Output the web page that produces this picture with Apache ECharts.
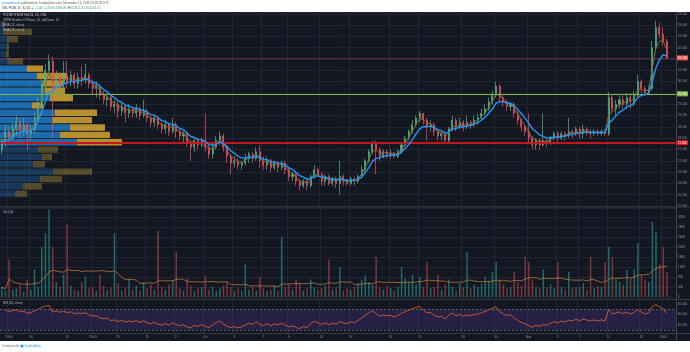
<!DOCTYPE html>
<html>
<head>
<meta charset="utf-8">
<title>PCI BIOTECH HLDG, 15, OSL</title>
<script src="https://cdn.jsdelivr.net/npm/echarts@6.0.0/dist/echarts.min.js"></script>
<style>
  html, body { margin: 0; padding: 0; background: #fff; }
  #chart { width: 690px; height: 352px; }
</style>
</head>
<body>
<div id="chart"></div>
<script>
// candles, about 4 per trading day (thin stock, bar count per day varies)
// [open, close, low, high]
var bars = [
  [27.5,27.8,27.3,28.0],[27.8,28.3,27.6,28.6],[28.3,28.0,27.7,28.5],[28.0,28.4,27.9,28.7],                     // Sep 12
  [28.4,28.7,28.1,29.0],[28.7,28.3,28.0,28.9],[28.3,28.6,28.1,28.9],[28.6,28.2,27.5,28.7],                     // Sep 13
  [28.2,28.4,27.9,28.6],[28.4,28.9,28.2,29.1],[28.9,29.6,28.7,29.8],[29.6,30.4,29.4,30.6],[30.4,31.0,30.1,31.3], // Sep 16
  [31.0,31.4,30.8,31.7],[31.4,30.1,28.0,31.6],[30.1,30.7,29.9,31.0],[30.7,30.4,30.1,30.9],[30.4,30.8,30.2,31.4], // Sep 17
  [30.8,30.5,30.2,31.4],[30.5,30.8,30.3,31.0],[30.8,30.4,30.2,30.9],[30.4,30.7,30.2,30.9],[30.7,30.6,30.3,31.2], // Sep 18
  [30.6,30.8,30.4,31.3],[30.8,30.4,30.2,30.9],[30.4,30.2,29.9,30.6],[30.2,30.3,29.8,30.5],[30.3,29.9,29.7,30.4], // Sep 19
  [29.9,29.7,29.5,30.1],[29.7,29.8,29.4,30.0],[29.8,29.4,29.2,29.9],[29.4,29.5,29.1,29.7],                     // Sep 20
  [29.5,29.2,28.9,29.6],[29.2,29.4,29.0,29.6],[29.4,29.1,28.7,29.5],[29.1,29.3,28.9,29.5],                     // Sep 23
  [29.3,29.1,28.9,29.4],[29.1,29.3,28.9,29.5],[29.3,29.0,28.8,29.4],[29.0,29.2,28.9,29.7],                     // Sep 24
  [29.2,28.9,28.7,29.3],[28.9,28.7,28.5,29.0],[28.7,28.9,28.5,29.0],[28.9,28.6,28.4,29.0],                     // Sep 25
  [28.6,28.4,28.2,28.7],[28.4,28.6,28.2,28.8],[28.6,28.3,28.1,28.7],[28.3,28.6,28.2,28.9],                     // Sep 26
  [28.6,28.3,28.0,28.7],[28.3,28.1,27.9,28.4],[28.1,28.2,27.8,28.3],[28.2,27.8,27.6,28.3],                     // Sep 27
  [27.8,27.6,27.0,27.9],[27.6,27.9,27.4,28.0],[27.9,27.7,27.5,28.0],[27.7,27.9,27.6,28.0],                     // Sep 30
  [27.9,27.6,27.4,29.1],[27.6,27.3,27.1,27.8],[27.3,27.6,27.1,27.8],[27.6,27.9,27.5,28.1],                     // Oct 1
  [27.9,28.1,27.7,28.3],[28.1,27.6,27.4,28.2],[27.6,27.2,26.9,27.7],[27.2,26.9,26.4,27.3],                     // Oct 2
  [26.9,27.0,26.7,27.2],[27.0,26.8,26.6,27.1],[26.8,26.9,26.6,27.0],[26.9,27.1,26.8,27.3],                     // Oct 3
  [27.1,27.3,26.9,27.4],[27.3,27.1,26.9,27.4],[27.1,27.4,27.0,27.6],[27.4,27.0,26.7,27.7],                     // Oct 4
  [27.0,26.8,26.6,27.2],[26.8,27.0,26.6,27.2],[27.0,26.7,26.5,27.1],[26.7,26.9,26.6,27.0],                     // Oct 7
  [26.9,26.7,26.5,27.0],[26.7,26.9,26.6,27.0],[26.9,26.6,26.4,27.0],                                           // Oct 8
  [26.6,26.3,26.1,26.7],[26.3,26.4,26.1,26.5],[26.4,26.1,25.9,26.5],                                           // Oct 9
  [26.1,25.9,25.7,26.2],[25.9,26.1,25.8,26.2],[26.1,25.9,25.7,26.2],                                           // Oct 10
  [25.9,26.3,25.8,26.4],[26.3,26.6,26.2,26.8],[26.6,26.4,26.3,26.7],                                           // Oct 11
  [26.4,26.1,25.9,26.5],[26.1,26.3,25.9,26.4],[26.3,26.0,25.9,26.4],[26.0,26.2,25.9,26.3],                     // Oct 14
  [26.2,26.0,25.8,26.3],[26.0,26.3,25.5,27.0],[26.3,26.1,25.9,26.4],[26.1,26.0,25.9,26.2],                     // Oct 15
  [26.0,26.2,25.9,26.3],[26.2,26.1,25.9,26.3],[26.1,26.3,26.0,26.4],[26.3,26.6,26.2,26.8],                     // Oct 16
  [26.6,27.0,26.5,27.1],[27.0,27.4,26.9,27.5],[27.4,27.8,27.3,27.9],                                           // Oct 17
  [27.8,27.5,26.4,27.9],[27.5,27.2,27.0,27.6],[27.2,27.4,27.1,27.5],[27.4,27.3,27.1,27.5],                     // Oct 18
  [27.3,27.35,27.1,27.5],[27.35,27.2,27.1,27.4],[27.2,27.4,27.1,27.5],[27.4,27.7,27.3,27.8],                   // Oct 21
  [27.7,28.0,27.6,28.1],[28.0,28.3,27.9,28.4],[28.3,28.6,28.2,28.8],[28.6,28.9,28.5,29.0],                     // Oct 22
  [28.9,29.1,28.7,29.2],[29.1,28.8,28.6,29.1],[28.8,28.5,27.9,28.9],[28.5,28.6,28.3,28.8],                     // Oct 23
  [28.6,28.3,28.1,28.7],[28.3,28.1,27.9,28.4],[28.1,28.2,27.9,28.3],[28.2,27.9,27.8,28.3],                     // Oct 24
  [27.9,28.4,27.8,28.5],[28.4,28.8,28.3,29.0],[28.8,28.5,28.3,28.9],[28.5,28.7,28.4,28.9],                     // Oct 25
  [28.7,28.5,28.3,28.8],[28.5,28.7,28.4,29.0],[28.7,28.6,28.4,28.8],[28.6,28.8,28.5,29.0],[28.8,28.9,28.6,29.1], // Oct 28
  [28.9,29.1,28.8,29.3],[29.1,29.3,29.0,29.5],[29.3,29.6,29.2,29.8],[29.6,29.9,29.5,30.1],                     // Oct 29
  [29.9,30.3,29.8,30.5],[30.3,29.8,29.6,30.4],[29.8,29.6,29.4,29.9],[29.6,29.4,29.2,29.7],[29.4,29.5,29.2,29.6], // Oct 30
  [29.5,29.1,28.9,29.6],[29.1,28.8,28.6,29.2],[28.8,28.5,28.3,28.9],[28.5,28.3,28.1,28.6],                     // Oct 31
  [28.3,28.0,27.8,29.1],[28.0,27.7,27.5,28.1],[27.7,27.9,27.5,28.0],[27.9,27.7,27.5,28.0],                     // Nov 1
  [27.7,27.9,27.6,29.1],[27.9,27.8,27.6,28.0],[27.8,28.0,27.7,28.1],[28.0,28.2,27.9,28.3],                     // Nov 4
  [28.2,28.0,27.8,28.3],[28.0,28.2,27.9,28.3],[28.2,28.1,27.9,28.3],                                           // Nov 5
  [28.1,28.3,28.0,28.9],[28.3,28.2,28.0,28.4],[28.2,28.4,28.1,28.5],                                           // Nov 6
  [28.4,28.2,28.0,28.5],[28.2,28.4,28.0,28.6],[28.4,28.3,28.1,28.5],[28.3,28.2,28.0,28.4],                     // Nov 7
  [28.2,28.3,28.1,28.4],[28.3,28.2,28.1,28.4],[28.2,28.3,28.1,28.4],[28.3,28.2,28.1,28.4],                     // Nov 8
  [28.2,29.8,28.1,30.05],[29.8,29.3,29.1,29.9],[29.3,29.5,29.0,29.7],[29.5,29.7,29.3,29.9],                    // Nov 11
  [29.7,29.5,29.3,29.9],[29.5,29.8,29.3,30.0],[29.8,29.6,29.3,30.0],[29.6,29.9,29.4,30.1],[29.9,30.5,29.8,30.8], // Nov 12
  [30.5,30.2,30.0,30.6],[30.2,30.0,29.9,30.3],[30.0,30.2,29.9,30.3],[30.2,32.0,30.1,32.3],                     // Nov 13
  [32.0,32.9,31.8,33.2],[32.9,32.6,32.4,33.1],[32.6,32.3,32.1,32.9],[32.3,31.55,31.5,32.4]                     // Nov 14
];

// volume per candle, thousands
var volumesK = [
  40,25,150,30,  35,50,20,70,  30,110,40,200,255,  350,200,60,40,90,  290,45,30,25,60,  80,35,40,25,90,
  45,30,40,255,  55,25,40,70,  30,45,25,60,  35,50,30,265,  40,30,50,65,  180,35,25,75,  45,25,35,40,
  85,30,40,25,  35,45,60,40,  25,35,25,130,  30,40,25,80,  35,25,30,45,  25,240,40,  50,30,70,  55,25,35,
  70,40,30,  35,45,150,30,  40,120,25,35,  30,40,55,70,  85,60,50,  160,40,30,45,  35,25,40,120,
  75,60,90,50,  80,40,140,35,  40,90,30,50,  70,40,25,55,  40,180,35,50,40,  55,80,65,100,
  140,70,50,35,40,  100,60,45,160,  140,70,40,35,  110,40,50,35,  140,40,30,  100,35,40,
  40,55,30,160,  35,45,40,140,  200,160,70,60,  50,108,75,110,215,  90,70,60,300,  260,130,200,100
];

// time axis labels: [candle index, text]
var timeTicks = [
  [2,'13:00'],[8,'16'],[18,'18'],[25,'13:00'],[32,'23'],[40,'25'],[48,'27'],[56,'Oct'],[64,'3'],
  [72,'7'],[79,'9'],[88,'14'],[96,'16'],[107,'21'],[115,'23'],[127,'28'],[136,'30'],[145,'Nov'],
  [153,'5'],[159,'7'],[167,'11'],[176,'13'],[182,'13:00']
];

// horizontal levels drawn on the chart
var supportLevel = 27.80;
var resistLevel = 29.96;
var lastPrice = 31.55;
var trendLine = [[72, 24.95], [185, 27.92]];

// volume profile, 24 rows top -> bottom: [up, down]
var vpRows = [
  [2,3],[3,29],[7,11],[7,2],[6,3],[8,15],[27,16],[37,30],[43,20],[45,20],[50,23],[32,11],
  [55,42],[53,39],[70,35],[60,50],[77,45],[38,20],[42,10],[33,12],[53,39],[40,22],[23,19],[15,12]
];
var vpTop = 33.19, vpBottom = 25.38;
var valueArea = [6, 16];

var emaFastLen = 3, emaSlowLen = 7, volMaLen = 20, rsiLen = 14;

var closes = bars.map(function (b) { return b[1]; });
var cats = [];
for (var i = 0; i < bars.length + 2; i++) cats.push(String(i));
var tickMap = {};
timeTicks.forEach(function (t) { tickMap[t[0]] = t[1]; });

function ema(arr, n) {
  var k = 2 / (n + 1), out = [], prev = arr[0];
  for (var i = 0; i < arr.length; i++) {
    prev = i === 0 ? arr[0] : arr[i] * k + prev * (1 - k);
    out.push(+prev.toFixed(3));
  }
  return out;
}
function sma(arr, n) {
  var out = [];
  for (var i = 0; i < arr.length; i++) {
    var s = 0, c = 0;
    for (var j = Math.max(0, i - n + 1); j <= i; j++) { s += arr[j]; c++; }
    out.push(+(s / c).toFixed(2));
  }
  return out;
}
function rsi(arr, n) {
  // seed averages from the first n changes, then Wilder smoothing
  var g0 = 0, l0 = 0;
  for (var i = 1; i <= n && i < arr.length; i++) {
    var d0 = arr[i] - arr[i - 1];
    if (d0 > 0) g0 += d0; else l0 -= d0;
  }
  var ag = g0 / n, al = l0 / n, out = ['-'];
  for (var j = 1; j < arr.length; j++) {
    var d = arr[j] - arr[j - 1];
    ag = (ag * (n - 1) + Math.max(d, 0)) / n;
    al = (al * (n - 1) + Math.max(-d, 0)) / n;
    out.push(al === 0 ? 100 : +(100 - 100 / (1 + ag / al)).toFixed(2));
  }
  return out;
}

var emaFast = ema(closes, emaFastLen);
var emaSlow = ema(closes, emaSlowLen);
var volMa = sma(volumesK, volMaLen);
var rsiVals = rsi(closes, rsiLen);

var UP = '#4fb583', DOWN = '#ef4f5e';
var BG = '#131722', GRID = '#232632', AXIS = '#434651', TXT = '#9598a1';
var FONT = '"Liberation Sans", Arial, sans-serif';

var myChart = echarts.init(document.getElementById('chart'));

function catAxis(grid, showLabels) {
  return {
    type: 'category', gridIndex: grid, data: cats, boundaryGap: true,
    axisLine: { show: false }, axisTick: { show: false },
    axisLabel: {
      show: showLabels, fontSize: 3, color: TXT, margin: 3, fontFamily: FONT,
      interval: function (i) { return tickMap[i] !== undefined; },
      formatter: function (v, i) { return tickMap[i] || ''; }
    },
    splitLine: {
      show: true, lineStyle: { color: GRID, width: 1 },
      interval: function (i) { return tickMap[i] !== undefined; }
    }
  };
}

var rowH = (vpTop - vpBottom) / vpRows.length;

function priceTag(val, bg, fg) {
  return {
    show: true, position: 'end', distance: 1, formatter: val.toFixed(3),
    backgroundColor: bg, color: fg, fontSize: 3, padding: [1, 1], fontFamily: FONT
  };
}

var option = {
  animation: false,
  backgroundColor: '#ffffff',
  graphic: [
    { type: 'rect', z: -10, silent: true, shape: { x: 0, y: 12, width: 690, height: 329 }, style: { fill: BG } },
    { type: 'line', z: 50, silent: true, shape: { x1: 0, y1: 207, x2: 690, y2: 207 }, style: { stroke: '#363a45', lineWidth: 1 } },
    { type: 'line', z: 50, silent: true, shape: { x1: 0, y1: 299.5, x2: 690, y2: 299.5 }, style: { stroke: '#363a45', lineWidth: 1 } },
    { type: 'line', z: 50, silent: true, shape: { x1: 0, y1: 333.5, x2: 690, y2: 333.5 }, style: { stroke: '#363a45', lineWidth: 1 } },
    { type: 'line', z: 50, silent: true, shape: { x1: 676.5, y1: 12, x2: 676.5, y2: 341 }, style: { stroke: AXIS, lineWidth: 1 } },
    // header
    { type: 'text', z: 60, x: 2, y: 3.5, style: {
        text: '{u|cannjobiossel} published on TradingView.com, November 14, 2019 14:28:28 UTC',
        fill: '#555', fontSize: 3, fontFamily: FONT, verticalAlign: 'middle',
        rich: { u: { fill: '#2196f3', fontSize: 3, fontFamily: FONT } } } },
    { type: 'text', z: 60, x: 2, y: 8, style: {
        text: 'OSL:PCIB, 15  31.55 {g|▲ +1.40 (+4.64%)} O:{g|31.85} H:{g|31.85} L:{g|31.55} C:{g|31.55}',
        fill: '#333', fontSize: 3, fontFamily: FONT, verticalAlign: 'middle',
        rich: { g: { fill: '#26a65b', fontSize: 3, fontFamily: FONT } } } },
    // pane legends
    { type: 'text', z: 60, x: 3, y: 15.5, style: { text: 'PCI BIOTECH HLDG, 15, OSL', fill: '#d1d4dc', fontSize: 3.2, fontFamily: FONT, verticalAlign: 'middle' } },
    { type: 'text', z: 60, x: 3, y: 20, style: { text: 'VPVR Number Of Rows, 24, Up/Down, 70', fill: '#b2b5be', fontSize: 3, fontFamily: FONT, verticalAlign: 'middle' } },
    { type: 'text', z: 60, x: 3, y: 25, style: { text: 'EMA (12, close)', fill: '#b2b5be', fontSize: 3, fontFamily: FONT, verticalAlign: 'middle' } },
    { type: 'text', z: 60, x: 3, y: 30, style: { text: 'EMA (26, close)', fill: '#b2b5be', fontSize: 3, fontFamily: FONT, verticalAlign: 'middle' } },
    { type: 'text', z: 60, x: 3, y: 212, style: { text: 'Vol (20)', fill: '#b2b5be', fontSize: 3, fontFamily: FONT, verticalAlign: 'middle' } },
    { type: 'text', z: 60, x: 3, y: 303.5, style: { text: 'RSI (14, close)', fill: '#b2b5be', fontSize: 3, fontFamily: FONT, verticalAlign: 'middle' } },
    // footer
    { type: 'text', z: 60, x: 2, y: 346, style: { text: 'Created with', fill: '#666', fontSize: 3, fontFamily: FONT, verticalAlign: 'middle' } },
    { type: 'circle', z: 60, silent: true, shape: { cx: 22, cy: 346, r: 1.6 }, style: { fill: '#2196f3' } },
    { type: 'text', z: 60, x: 24.5, y: 346, style: { text: 'TradingView', fill: '#2196f3', fontSize: 3, fontFamily: FONT, verticalAlign: 'middle' } }
  ],
  grid: [
    { left: 0, right: 14, top: 12, height: 194 },
    { left: 0, right: 14, top: 208, height: 89 },
    { left: 0, right: 14, top: 300, height: 33 }
  ],
  xAxis: [
    catAxis(0, false),
    catAxis(1, false),
    catAxis(2, true),
    { type: 'value', gridIndex: 0, min: 0, max: 676, show: false, position: 'top' }
  ],
  yAxis: [
    {
      type: 'value', gridIndex: 0, position: 'right', min: 25, max: 33.58, interval: 0.5,
      axisLine: { show: false }, axisTick: { show: false },
      axisLabel: { fontSize: 3, color: TXT, margin: 2, fontFamily: FONT, showMaxLabel: false,
        formatter: function (v) { return v.toFixed(3); } },
      splitLine: { lineStyle: { color: GRID } }
    },
    {
      type: 'value', gridIndex: 1, position: 'right', min: 0, max: 356, interval: 40,
      axisLine: { show: false }, axisTick: { show: false },
      axisLabel: { fontSize: 3, color: TXT, margin: 2, fontFamily: FONT, showMaxLabel: false,
        formatter: function (v) { return v === 0 ? '0' : v + 'K'; } },
      splitLine: { lineStyle: { color: GRID } }
    },
    {
      type: 'value', gridIndex: 2, position: 'right', min: 24, max: 88,
      axisLine: { show: false }, axisTick: { show: false },
      axisLabel: { fontSize: 3, color: TXT, margin: 2, fontFamily: FONT, customValues: [40, 60, 80],
        formatter: function (v) { return v.toFixed(3); } },
      splitLine: { show: false }
    }
  ],
  series: [
    {
      type: 'custom', name: 'VPVR', xAxisIndex: 3, yAxisIndex: 0, z: 1, silent: true,
      data: vpRows.map(function (r, k) { return [k, r[0], r[1]]; }),
      renderItem: function (params, api) {
        var k = api.value(0), up = api.value(1), dn = api.value(2);
        var hiP = vpTop - k * rowH, loP = hiP - rowH;
        var a = api.coord([0, hiP]), b = api.coord([up, loP]), c = api.coord([up + dn, loP]);
        var inVA = k >= valueArea[0] && k <= valueArea[1];
        var h = b[1] - a[1] - 1;
        return {
          type: 'group', children: [
            { type: 'rect', shape: { x: a[0], y: a[1] + 0.5, width: b[0] - a[0], height: h },
              style: { fill: inVA ? 'rgba(33,140,230,0.72)' : 'rgba(33,120,200,0.33)' } },
            { type: 'rect', shape: { x: b[0], y: a[1] + 0.5, width: c[0] - b[0], height: h },
              style: { fill: inVA ? 'rgba(225,175,50,0.8)' : 'rgba(200,165,60,0.36)' } }
          ]
        };
      }
    },
    {
      type: 'candlestick', name: 'PCIB', xAxisIndex: 0, yAxisIndex: 0, z: 3, barWidth: '42%',
      data: bars,
      itemStyle: { color: UP, color0: DOWN, borderColor: UP, borderColor0: DOWN, borderWidth: 0.7 },
      markLine: {
        silent: true, symbol: 'none', animation: false,
        data: [
          { yAxis: lastPrice, lineStyle: { color: 'rgba(190,60,80,0.45)', width: 1, type: 'solid' },
            label: priceTag(lastPrice, '#ef5350', '#fff') },
          { yAxis: resistLevel, lineStyle: { color: '#7cb342', width: 1, type: 'solid' },
            label: priceTag(resistLevel, '#7cb342', '#fff') },
          { yAxis: supportLevel, lineStyle: { color: '#c4161c', width: 2.2, type: 'solid' },
            label: priceTag(supportLevel, '#e0161c', '#fff') },
          [
            { coord: trendLine[0], lineStyle: { color: '#8bc34a', width: 1.2, type: 'solid' }, label: { show: false } },
            { coord: trendLine[1] }
          ]
        ]
      }
    },
    {
      type: 'line', name: 'EMA fast', xAxisIndex: 0, yAxisIndex: 0, z: 4, data: emaFast,
      showSymbol: false, silent: true, lineStyle: { color: '#8a6536', width: 1 },
      markLine: {
        silent: true, symbol: 'none',
        data: [{ yAxis: emaFast[emaFast.length - 1], lineStyle: { opacity: 0 },
          label: priceTag(emaFast[emaFast.length - 1], '#f48fb1', '#fff') }]
      }
    },
    {
      type: 'line', name: 'EMA slow', xAxisIndex: 0, yAxisIndex: 0, z: 5, data: emaSlow,
      showSymbol: false, silent: true, lineStyle: { color: '#2196f3', width: 1.4 }
    },
    {
      type: 'bar', name: 'Volume', xAxisIndex: 1, yAxisIndex: 1, barWidth: '40%',
      data: volumesK.map(function (v, i) {
        var up = bars[i][1] >= bars[i][0];
        return { value: v, itemStyle: { color: up ? 'rgba(38,166,154,0.6)' : 'rgba(239,83,80,0.5)' } };
      })
    },
    {
      type: 'line', name: 'Vol MA', xAxisIndex: 1, yAxisIndex: 1, data: volMa,
      showSymbol: false, silent: true, lineStyle: { color: '#c7803f', width: 0.8, opacity: 0.9 }
    },
    {
      type: 'line', name: 'RSI', xAxisIndex: 2, yAxisIndex: 2, data: rsiVals,
      showSymbol: false, silent: true, lineStyle: { color: '#e0662e', width: 0.8 },
      markArea: {
        silent: true,
        itemStyle: { color: 'rgba(110,70,190,0.22)' },
        data: [[{ yAxis: 30 }, { yAxis: 70 }]]
      },
      markLine: {
        silent: true, symbol: 'none', label: { show: false },
        lineStyle: { color: '#6a6d78', width: 0.8, type: [2, 2] },
        data: [{ yAxis: 70 }, { yAxis: 30 }]
      }
    }
  ]
};

myChart.setOption(option);

window.addEventListener('resize', function () {
  myChart.resize();
});
</script>
</body>
</html>
